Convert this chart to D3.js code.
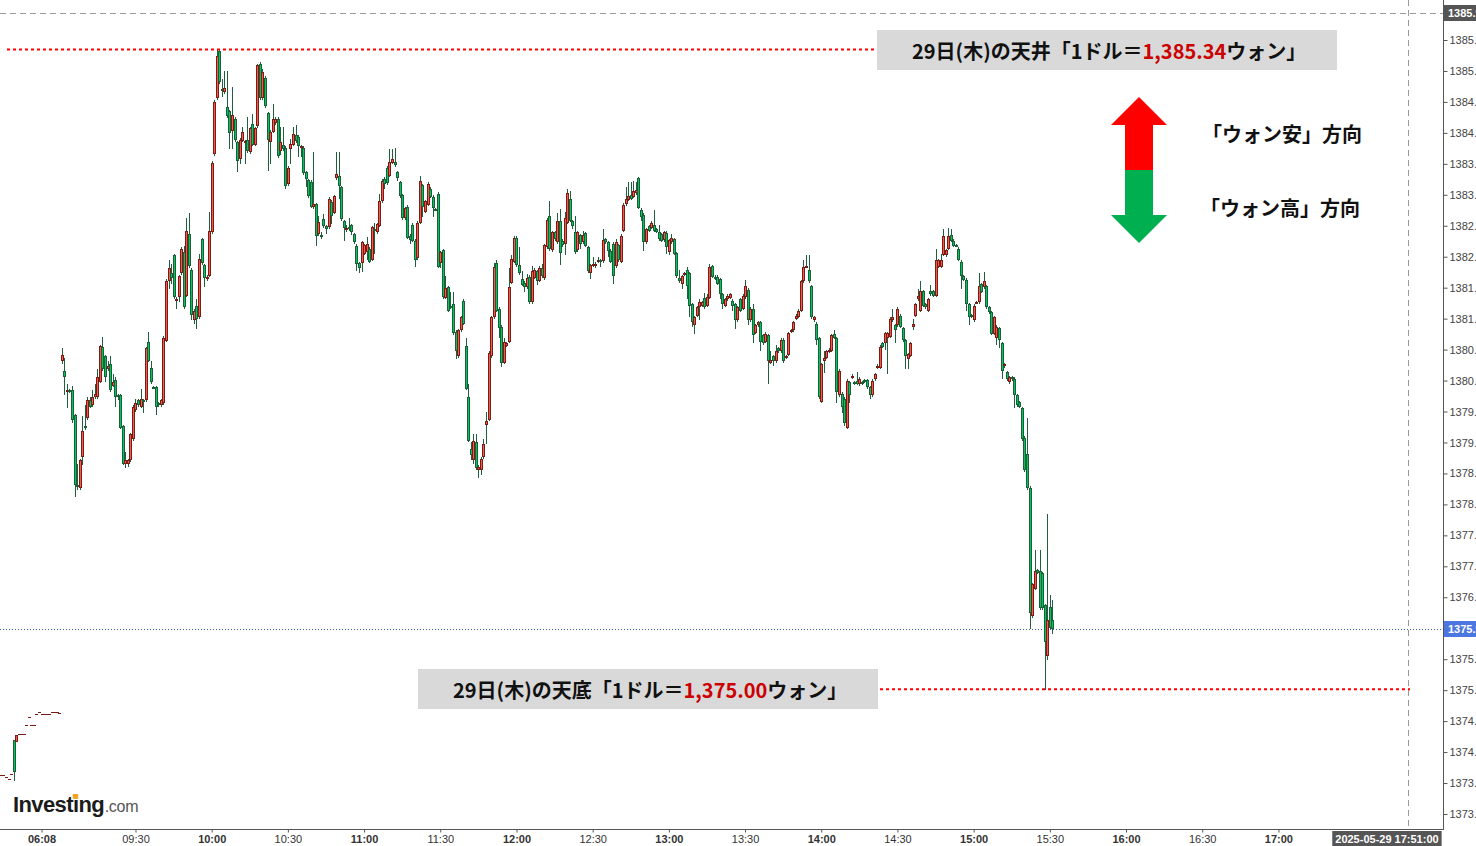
<!DOCTYPE html>
<html><head><meta charset="utf-8">
<script src="https://cdn.jsdelivr.net/npm/d3@7"></script>
<style>body{margin:0;background:#fff;overflow:hidden}svg{display:block}</style>
</head><body>
<svg id="c" width="1476" height="846"></svg>
<script>
// ---------------- DATA ----------------
// pre-market 1-minute bars [open, high, low, close], minute index -23 .. 0
const preStartMinute = -23;
const preMarket = [
[1373.63,1373.63,1373.63,1373.63],[1373.63,1373.63,1373.63,1373.63],[1373.60,1373.60,1373.60,1373.60],
[1373.56,1373.56,1373.56,1373.56],[1373.65,1373.65,1373.65,1373.65],[1374.19,1374.19,1373.53,1373.68],
[1374.16,1374.27,1374.16,1374.27],[1374.29,1374.29,1374.29,1374.29],[1374.29,1374.29,1374.29,1374.29],
[1374.29,1374.29,1374.29,1374.29],[1374.43,1374.43,1374.43,1374.43],[1374.56,1374.56,1374.56,1374.56],
[1374.43,1374.43,1374.43,1374.43],[1374.43,1374.43,1374.43,1374.43],[1374.61,1374.61,1374.61,1374.61],
[1374.64,1374.64,1374.64,1374.64],[1374.61,1374.61,1374.61,1374.61],[1374.61,1374.61,1374.61,1374.61],
[1374.61,1374.61,1374.61,1374.61],[1374.61,1374.61,1374.61,1374.61],[1374.64,1374.64,1374.64,1374.64],
[1374.64,1374.64,1374.64,1374.64],[1374.64,1374.64,1374.64,1374.64],[1374.63,1374.63,1374.63,1374.63]
];
// session 1-minute bars [open, high, low, close], minute index 1 (09:01) onward
const sessionStartMinute = 1;
const session = [
[1380.32,1380.53,1380.27,1380.42],[1380.16,1380.37,1379.76,1380.06],[1379.81,1379.95,1379.55,1379.85],[1379.84,1379.86,1379.80,1379.82],
[1379.85,1379.92,1379.32,1379.36],[1379.44,1379.46,1378.12,1378.31],[1378.31,1378.66,1378.23,1378.28],[1378.26,1378.74,1378.24,1378.71],
[1378.77,1379.42,1378.63,1379.18],[1379.26,1379.60,1379.20,1379.23],[1379.40,1379.73,1379.37,1379.69],[1379.69,1379.74,1379.55,1379.58],
[1379.61,1379.84,1379.58,1379.73],[1379.74,1379.94,1379.70,1379.79],[1379.73,1380.19,1379.71,1380.05],[1379.98,1380.58,1379.96,1380.56],
[1380.55,1380.71,1380.16,1380.19],[1380.40,1380.42,1379.98,1380.06],[1380.19,1380.32,1380.16,1380.24],[1380.27,1380.39,1379.82,1379.84],
[1379.92,1380.11,1379.90,1379.98],[1380.01,1380.06,1379.58,1379.73],[1379.77,1379.79,1379.68,1379.73],[1379.77,1379.79,1379.21,1379.24],
[1379.27,1379.29,1378.63,1378.66],[1378.66,1378.84,1378.58,1378.72],[1378.66,1378.74,1378.61,1378.71],[1378.71,1379.16,1378.69,1379.13],
[1379.06,1379.60,1379.03,1379.58],[1379.53,1379.71,1379.50,1379.63],[1379.69,1379.71,1379.58,1379.61],[1379.58,1379.87,1379.55,1379.71],
[1379.68,1379.70,1379.47,1379.65],[1379.68,1380.55,1379.66,1380.53],[1380.63,1380.79,1380.30,1380.32],[1380.21,1380.31,1379.94,1379.97],
[1379.90,1379.92,1379.86,1379.88],[1379.90,1379.92,1379.44,1379.58],[1379.64,1379.66,1379.58,1379.61],[1379.61,1379.70,1379.58,1379.68],
[1379.64,1380.72,1379.61,1380.69],[1380.64,1381.64,1380.62,1381.61],[1381.61,1381.94,1381.48,1381.81],[1381.74,1381.89,1381.56,1381.66],
[1382.03,1382.05,1381.32,1381.35],[1381.29,1381.35,1381.16,1381.32],[1381.35,1381.71,1381.27,1381.69],[1381.73,1382.15,1381.71,1382.13],
[1382.08,1382.18,1381.16,1381.19],[1381.37,1382.63,1381.35,1382.42],[1382.37,1382.71,1381.82,1381.85],[1381.79,1381.81,1380.97,1381.06],
[1380.98,1381.16,1380.92,1381.13],[1381.21,1381.32,1380.84,1381.00],[1381.03,1382.05,1381.00,1381.97],[1382.29,1382.31,1381.87,1381.90],
[1381.87,1381.89,1381.51,1381.66],[1381.64,1381.70,1381.61,1381.68],[1381.69,1382.72,1381.67,1382.42],[1382.40,1383.55,1382.37,1383.52],
[1383.66,1384.53,1383.63,1384.50],[1384.56,1385.34,1384.53,1385.24],[1385.32,1385.34,1384.79,1384.82],[1384.71,1384.87,1384.58,1384.68],
[1384.66,1385.00,1384.63,1384.73],[1384.42,1385.00,1384.24,1384.27],[1384.35,1384.37,1383.74,1384.00],[1384.03,1384.74,1383.74,1384.29],
[1384.23,1384.26,1383.86,1383.89],[1383.85,1383.87,1383.37,1383.55],[1383.58,1383.92,1383.50,1383.89],[1383.87,1384.10,1383.85,1384.02],
[1383.84,1383.89,1383.50,1383.87],[1383.89,1384.26,1383.68,1383.71],[1383.69,1384.10,1383.66,1384.08],[1384.15,1384.31,1383.79,1383.81],
[1383.81,1384.10,1383.79,1384.08],[1384.11,1385.12,1384.08,1385.10],[1385.11,1385.14,1384.53,1384.56],[1384.56,1385.03,1384.53,1384.98],
[1384.89,1384.92,1384.40,1384.43],[1384.32,1384.34,1383.39,1383.89],[1383.85,1384.05,1383.50,1384.02],[1384.02,1384.47,1383.99,1384.23],
[1384.16,1384.26,1384.13,1384.23],[1384.23,1384.26,1383.60,1383.63],[1383.71,1384.10,1383.64,1383.85],[1383.81,1384.10,1383.71,1383.74],
[1383.76,1383.79,1383.10,1383.15],[1383.18,1383.47,1383.15,1383.44],[1383.74,1383.90,1383.50,1383.82],[1383.81,1384.10,1383.79,1383.98],
[1383.97,1384.13,1383.84,1383.87],[1383.94,1383.97,1383.61,1383.79],[1383.77,1383.81,1383.61,1383.79],[1383.76,1383.79,1383.32,1383.35],
[1383.37,1383.39,1383.13,1383.26],[1383.24,1383.26,1382.95,1382.98],[1383.21,1383.24,1382.79,1382.81],[1382.81,1383.69,1382.77,1382.85],
[1382.85,1382.87,1382.18,1382.34],[1382.37,1382.66,1382.34,1382.56],[1382.35,1382.40,1382.29,1382.34],[1382.61,1382.69,1382.47,1382.50],
[1382.50,1382.52,1382.37,1382.45],[1382.48,1382.96,1382.45,1382.94],[1382.89,1382.91,1382.53,1382.66],[1382.71,1383.00,1382.69,1382.98],
[1383.27,1383.69,1383.24,1383.34],[1383.31,1383.69,1382.94,1383.15],[1383.13,1383.15,1382.58,1382.61],[1382.58,1382.60,1382.26,1382.47],
[1382.43,1382.52,1382.40,1382.47],[1382.48,1382.63,1382.42,1382.45],[1382.51,1382.53,1382.35,1382.40],[1382.37,1382.39,1382.21,1382.23],
[1382.18,1382.20,1381.77,1381.89],[1381.90,1381.92,1381.74,1381.81],[1381.90,1382.26,1381.76,1382.24],[1382.05,1382.21,1382.03,1382.19],
[1382.07,1382.32,1381.94,1382.21],[1382.13,1382.15,1381.90,1381.92],[1381.95,1382.50,1381.93,1382.48],[1382.45,1382.55,1382.05,1382.42],
[1382.40,1382.55,1382.37,1382.53],[1382.50,1383.02,1382.48,1382.90],[1382.90,1383.26,1382.87,1383.23],[1383.26,1383.29,1383.10,1383.18],
[1383.44,1383.47,1383.16,1383.19],[1383.31,1383.74,1383.29,1383.53],[1383.52,1383.74,1383.50,1383.58],[1383.53,1383.76,1383.45,1383.48],
[1383.37,1383.39,1383.23,1383.27],[1383.21,1383.23,1382.95,1382.98],[1383.00,1383.02,1382.60,1382.63],[1382.63,1382.81,1382.60,1382.79],
[1382.81,1382.83,1382.29,1382.31],[1382.34,1382.37,1382.21,1382.27],[1382.52,1382.55,1382.24,1382.26],[1382.26,1382.28,1381.84,1381.95],
[1381.98,1382.57,1381.95,1382.55],[1382.55,1383.31,1382.53,1383.23],[1383.16,1383.18,1382.64,1382.81],[1382.73,1382.92,1382.71,1382.90],
[1382.84,1383.21,1382.82,1383.18],[1383.10,1383.13,1382.95,1382.97],[1382.97,1382.99,1382.64,1382.79],[1382.77,1382.79,1382.74,1382.76],
[1383.02,1383.05,1381.82,1381.84],[1381.90,1382.10,1381.81,1382.07],[1382.11,1382.13,1381.32,1381.35],[1381.34,1381.69,1381.32,1381.50],
[1381.51,1381.53,1381.10,1381.13],[1381.21,1381.43,1381.16,1381.19],[1381.24,1381.43,1380.74,1380.77],[1380.79,1380.81,1380.35,1380.47],
[1380.40,1380.84,1380.37,1380.82],[1380.82,1381.05,1380.79,1381.02],[1381.29,1381.31,1380.89,1380.92],[1380.56,1380.68,1379.84,1379.87],
[1379.74,1379.94,1379.00,1379.03],[1378.90,1379.01,1378.71,1378.79],[1378.72,1379.13,1378.66,1379.03],[1379.01,1379.13,1378.55,1378.58],
[1378.56,1378.63,1378.42,1378.61],[1378.55,1378.76,1378.47,1378.73],[1378.76,1379.06,1378.74,1378.97],[1379.29,1379.50,1378.98,1379.35],
[1379.37,1380.47,1379.34,1380.45],[1380.40,1381.05,1380.37,1381.02],[1381.02,1381.90,1381.00,1381.84],[1381.90,1381.94,1381.10,1381.13],
[1381.16,1381.18,1380.68,1380.85],[1380.87,1380.89,1380.22,1380.29],[1380.29,1380.69,1380.26,1380.63],[1380.56,1380.62,1380.55,1380.60],
[1380.63,1381.81,1380.61,1381.51],[1381.58,1382.02,1381.56,1381.97],[1381.92,1382.33,1381.90,1382.31],[1382.31,1382.33,1381.84,1381.87],
[1381.87,1382.16,1381.71,1381.73],[1381.64,1381.77,1381.52,1381.55],[1381.58,1381.60,1381.43,1381.51],[1381.51,1381.72,1381.48,1381.66],
[1381.68,1381.70,1381.24,1381.27],[1381.27,1381.85,1381.24,1381.77],[1381.66,1381.81,1381.64,1381.79],[1381.77,1381.79,1381.55,1381.60],
[1381.61,1381.85,1381.59,1381.82],[1381.82,1381.89,1381.66,1381.69],[1381.66,1382.21,1381.63,1382.19],[1382.16,1382.62,1382.13,1382.60],
[1382.66,1382.90,1382.10,1382.13],[1382.11,1382.42,1382.08,1382.40],[1382.40,1382.42,1382.26,1382.29],[1382.23,1382.71,1382.21,1382.58],
[1382.58,1382.77,1381.87,1382.06],[1382.26,1382.29,1382.16,1382.19],[1382.21,1382.72,1382.02,1382.63],[1382.55,1383.10,1382.53,1383.03],
[1382.94,1383.06,1382.56,1382.58],[1382.58,1382.60,1382.45,1382.50],[1382.40,1382.66,1382.05,1382.08],[1382.11,1382.42,1382.08,1382.40],
[1382.35,1382.37,1382.13,1382.21],[1382.24,1382.42,1382.21,1382.35],[1382.39,1382.40,1382.16,1382.18],[1382.16,1382.18,1381.74,1381.77],
[1381.73,1381.89,1381.64,1381.87],[1381.85,1382.00,1381.84,1381.89],[1381.86,1381.91,1381.81,1381.89],[1381.92,1382.00,1381.90,1381.94],
[1381.94,1381.96,1381.84,1381.92],[1381.93,1382.45,1381.90,1382.27],[1382.29,1382.31,1382.21,1382.24],[1382.24,1382.26,1382.00,1382.10],
[1382.10,1382.12,1381.90,1381.92],[1382.21,1382.24,1381.56,1381.69],[1381.85,1382.29,1381.82,1382.23],[1382.19,1382.21,1381.91,1381.94],
[1381.92,1382.36,1381.90,1382.34],[1382.42,1382.86,1382.40,1382.84],[1382.85,1383.13,1382.82,1382.94],[1382.92,1383.21,1382.90,1382.98],
[1383.00,1383.21,1382.92,1382.94],[1382.97,1383.23,1382.95,1383.06],[1383.03,1383.21,1383.00,1383.08],[1383.27,1383.29,1382.77,1382.79],
[1382.76,1382.78,1382.58,1382.64],[1382.68,1382.70,1382.10,1382.24],[1382.24,1382.47,1382.21,1382.45],[1382.50,1382.52,1382.40,1382.42],
[1382.47,1382.57,1382.45,1382.55],[1382.52,1382.76,1382.40,1382.42],[1382.44,1382.46,1382.38,1382.40],[1382.40,1382.52,1382.26,1382.29],
[1382.37,1382.39,1382.24,1382.26],[1382.27,1382.42,1382.24,1382.40],[1382.39,1382.41,1382.05,1382.16],[1382.08,1382.29,1382.03,1382.27],
[1382.24,1382.37,1382.21,1382.31],[1382.29,1382.31,1382.02,1382.05],[1382.06,1382.08,1381.66,1381.69],[1381.66,1381.79,1381.58,1381.61],
[1381.56,1381.71,1381.48,1381.69],[1381.71,1381.76,1381.69,1381.74],[1381.79,1381.84,1381.32,1381.53],[1381.74,1381.76,1381.03,1381.21],
[1381.24,1381.26,1380.87,1380.95],[1380.89,1381.05,1380.76,1381.02],[1381.05,1381.21,1381.03,1381.19],[1381.19,1381.32,1380.97,1381.27],
[1381.21,1381.29,1381.19,1381.27],[1381.34,1381.42,1381.16,1381.19],[1381.21,1381.39,1381.18,1381.35],[1381.34,1381.89,1381.31,1381.84],
[1381.85,1381.87,1381.66,1381.68],[1381.68,1381.70,1381.62,1381.64],[1381.68,1381.70,1381.54,1381.56],[1381.64,1381.66,1381.32,1381.40],
[1381.40,1381.42,1381.16,1381.24],[1381.21,1381.33,1381.19,1381.31],[1381.31,1381.39,1381.29,1381.37],[1381.34,1381.42,1381.32,1381.40],
[1381.29,1381.31,1381.13,1381.21],[1381.24,1381.26,1380.84,1380.97],[1380.97,1381.21,1380.95,1381.19],[1381.32,1381.34,1381.10,1381.13],
[1381.16,1381.39,1381.14,1381.37],[1381.35,1381.63,1381.32,1381.53],[1381.47,1381.49,1380.89,1380.97],[1380.97,1381.18,1380.95,1381.15],
[1381.15,1381.24,1380.60,1380.73],[1380.77,1380.91,1380.75,1380.89],[1380.89,1380.96,1380.87,1380.94],[1380.94,1380.96,1380.48,1380.63],
[1380.74,1380.76,1380.58,1380.61],[1380.63,1380.78,1380.61,1380.76],[1380.73,1380.75,1379.95,1380.31],[1380.29,1380.48,1380.27,1380.34],
[1380.40,1380.42,1380.24,1380.31],[1380.31,1380.58,1380.29,1380.48],[1380.53,1380.55,1380.45,1380.48],[1380.47,1380.68,1380.45,1380.66],
[1380.66,1380.68,1380.29,1380.31],[1380.37,1380.42,1380.35,1380.40],[1380.42,1380.79,1380.40,1380.77],[1380.79,1380.83,1380.77,1380.81],
[1380.81,1380.96,1380.79,1380.94],[1380.99,1381.07,1380.97,1381.05],[1381.03,1381.15,1381.01,1381.13],[1381.13,1381.63,1381.10,1381.61],
[1381.61,1381.94,1381.58,1381.84],[1381.84,1382.02,1381.82,1381.85],[1381.79,1382.02,1381.58,1381.61],[1381.53,1381.55,1380.99,1381.02],
[1380.97,1381.05,1380.94,1381.03],[1380.92,1380.94,1380.58,1380.65],[1380.69,1380.71,1379.70,1379.73],[1379.65,1380.29,1379.63,1380.27],
[1380.32,1380.47,1380.13,1380.37],[1380.37,1380.49,1380.35,1380.47],[1380.47,1380.52,1380.45,1380.50],[1380.48,1380.76,1380.46,1380.74],
[1380.76,1380.81,1380.67,1380.69],[1380.69,1380.71,1379.63,1379.82],[1379.76,1380.18,1379.74,1380.16],[1379.79,1379.81,1379.47,1379.58],
[1379.71,1379.73,1379.27,1379.31],[1379.24,1380.02,1379.22,1380.00],[1379.98,1380.00,1379.63,1379.77],[1380.05,1380.10,1380.03,1380.08],
[1379.98,1380.00,1379.93,1379.95],[1380.00,1380.14,1379.93,1379.95],[1379.94,1380.05,1379.92,1380.03],[1379.98,1380.00,1379.93,1379.95],
[1380.01,1380.03,1379.96,1379.98],[1380.01,1380.03,1379.87,1379.90],[1379.90,1379.92,1379.71,1379.76],[1379.76,1380.02,1379.74,1380.00],
[1380.02,1380.13,1380.00,1380.11],[1380.21,1380.26,1380.19,1380.24],[1380.21,1380.57,1380.19,1380.55],[1380.61,1380.63,1380.53,1380.55],
[1380.61,1380.79,1380.50,1380.77],[1380.69,1380.79,1380.11,1380.77],[1380.71,1381.03,1380.69,1381.00],[1380.97,1381.16,1380.95,1381.02],
[1380.90,1380.92,1380.60,1380.81],[1380.89,1381.19,1380.87,1381.15],[1381.05,1381.07,1380.85,1380.87],[1380.85,1380.87,1380.63,1380.65],
[1380.65,1380.67,1380.18,1380.40],[1380.35,1380.45,1380.18,1380.43],[1380.40,1380.62,1380.38,1380.60],[1380.87,1381.00,1380.81,1380.92],
[1381.05,1381.26,1381.03,1381.23],[1381.32,1381.48,1381.29,1381.37],[1381.13,1381.60,1381.10,1381.45],[1381.45,1381.47,1381.19,1381.21],
[1381.23,1381.26,1381.16,1381.19],[1381.13,1381.34,1381.10,1381.32],[1381.45,1381.55,1381.37,1381.39],[1381.45,1381.47,1381.35,1381.37],
[1381.37,1382.13,1381.35,1381.94],[1381.84,1381.97,1381.82,1381.95],[1381.84,1382.05,1381.82,1381.95],[1382.03,1382.45,1382.01,1382.34],
[1382.02,1382.13,1382.00,1382.11],[1382.13,1382.47,1382.11,1382.34],[1382.35,1382.44,1382.24,1382.26],[1382.26,1382.28,1382.16,1382.18],
[1382.19,1382.21,1382.16,1382.18],[1382.13,1382.15,1381.93,1381.95],[1381.92,1381.94,1381.48,1381.69],[1381.69,1381.71,1381.61,1381.63],
[1381.63,1381.65,1381.13,1381.24],[1381.24,1381.26,1380.89,1381.03],[1381.06,1381.08,1381.01,1381.03],[1380.97,1381.23,1380.95,1381.21],
[1381.26,1381.29,1381.24,1381.27],[1381.27,1381.73,1381.24,1381.53],[1381.56,1381.58,1381.41,1381.43],[1381.51,1381.76,1381.48,1381.61],
[1381.53,1381.55,1381.16,1381.19],[1381.19,1381.21,1381.07,1381.10],[1381.10,1381.12,1380.74,1380.76],[1380.76,1381.05,1380.74,1381.03],
[1380.68,1380.89,1380.58,1380.87],[1380.85,1380.87,1380.52,1380.65],[1380.61,1380.63,1380.03,1380.16],[1380.23,1380.28,1380.21,1380.26],
[1380.14,1380.16,1380.00,1380.03],[1379.97,1380.07,1379.95,1380.05],[1380.06,1380.08,1380.00,1380.02],[1380.03,1380.05,1379.55,1379.76],
[1379.77,1379.79,1379.58,1379.61],[1379.65,1379.67,1379.56,1379.58],[1379.56,1379.58,1379.03,1379.05],[1379.08,1379.10,1378.53,1378.56],
[1378.81,1379.39,1378.24,1378.27],[1378.27,1378.29,1375.98,1376.24],[1376.19,1376.73,1376.16,1376.71],[1376.63,1377.26,1376.61,1376.92],
[1376.94,1376.96,1376.87,1376.89],[1376.92,1377.26,1376.29,1376.32],[1376.89,1376.91,1376.29,1376.32],[1376.37,1376.39,1375.00,1375.77],
[1375.55,1377.85,1375.48,1376.13],[1376.35,1376.53,1375.98,1376.00],[1376.13,1376.45,1375.90,1375.98]
];
const xTickMinutes = [-7,30,60,90,120,150,180,210,240,270,300,330,360,390,420,450,480];
const xTickLabels  = ["06:08","09:30","10:00","10:30","11:00","11:30","12:00","12:30","13:00","13:30","14:00","14:30","15:00","15:30","16:00","16:30","17:00"];
const xTickBold    = [true,false,true,false,true,false,true,false,true,false,true,false,true,false,true,false,true];
const priceTicks = [1373.0,1373.5,1374.0,1374.5,1375.0,1375.5,1376.0,1376.5,1377.0,1377.5,1378.0,1378.5,1379.0,1379.5,1380.0,1380.5,1381.0,1381.5,1382.0,1382.5,1383.0,1383.5,1384.0,1384.5,1385.0,1385.5];
const dayHigh = 1385.34, dayLow = 1375.00, lastPrice = 1375.98;
const crossPrice = 1385.93, crossMinute = 531, crossLabel = "2025-05-29 17:51:00";
const topNote = ["29日(木)の天井「1ドル＝", "1,385.34", "ウォン」"];
const bottomNote = ["29日(木)の天底「1ドル＝", "1,375.00", "ウォン」"];
const upLabel = "「ウォン安」方向", downLabel = "「ウォン高」方向";

// ---------------- CHART ----------------
const svg = d3.select("#c");
const W = 1476, H = 846, axisX = 1443, axisY = 829;
const x = d3.scaleLinear().domain([-23.35, 544.8]).range([0, axisX]);
const y = d3.scaleLinear().domain([1373, 1385.5]).range([814, 40]);
const latin = "'Liberation Sans', Arial, sans-serif";
const jp = "'Noto Sans CJK JP', 'Noto Sans CJK SC', sans-serif";

svg.append("rect").attr("width", W).attr("height", H).attr("fill", "#fff");

// crosshair lines
svg.append("line").attr("x1", 0).attr("x2", axisX).attr("y1", Math.round(y(crossPrice)) + 0.5).attr("y2", Math.round(y(crossPrice)) + 0.5)
  .attr("stroke", "#9a9a9a").attr("stroke-dasharray", "6,4");
svg.append("line").attr("x1", Math.round(x(crossMinute)) + 0.5).attr("x2", Math.round(x(crossMinute)) + 0.5).attr("y1", 0).attr("y2", axisY)
  .attr("stroke", "#9a9a9a").attr("stroke-dasharray", "6,4");

// last price line
svg.append("line").attr("x1", 0).attr("x2", axisX).attr("y1", Math.round(y(lastPrice)) + 0.5).attr("y2", Math.round(y(lastPrice)) + 0.5)
  .attr("stroke", "#3d5fc4").attr("stroke-dasharray", "1,2");

// candles
function drawBars(rows, start) {
  const g = svg.append("g");
  rows.forEach((r, i) => {
    const [o, h, l, c] = r;
    const cx = Math.round(x(start + i));
    const up = c > o, flat = c === o;
    const fill = up ? "#f25a4f" : "#00c65e";
    const border = (up || flat) ? "#7a1c14" : "#1c5e38";
    const yh = Math.round(y(Math.max(h, o, c))), yl = Math.round(y(Math.min(l, o, c)));
    if (yl - yh > 0) g.append("rect").attr("x", cx).attr("y", yh).attr("width", 1).attr("height", yl - yh).attr("fill", "#1f5f3d");
    const top = Math.round(y(Math.max(o, c))), bot = Math.round(y(Math.min(o, c)));
    const hgt = Math.max(1, bot - top);
    if (flat) {
      g.append("rect").attr("x", cx - 1).attr("y", top).attr("width", 3).attr("height", 1).attr("fill", border);
      return;
    }
    g.append("rect").attr("x", cx - 1).attr("y", top).attr("width", 3).attr("height", Math.max(2, hgt)).attr("fill", border);
    if (hgt >= 3) g.append("rect").attr("x", cx).attr("y", top + 1).attr("width", 1).attr("height", hgt - 2).attr("fill", fill);
  });
}
drawBars(preMarket, preStartMinute);
drawBars(session, sessionStartMinute);

// red dotted high / low lines
svg.append("line").attr("x1", 7).attr("x2", 875).attr("y1", y(dayHigh) - 0.5).attr("y2", y(dayHigh) - 0.5)
  .attr("stroke", "#ff0000").attr("stroke-width", 2).attr("stroke-dasharray", "3,3");
svg.append("line").attr("x1", 880).attr("x2", 1410).attr("y1", y(dayLow) - 1).attr("y2", y(dayLow) - 1)
  .attr("stroke", "#ff0000").attr("stroke-width", 2).attr("stroke-dasharray", "3,3");

// axes
const yAxis = d3.axisRight(y).tickValues(priceTicks).tickFormat(d3.format(".2f")).tickSize(4).tickPadding(2);
const gy = svg.append("g").attr("transform", `translate(${axisX + 0.5},0)`).call(yAxis);
gy.select(".domain").remove();
gy.selectAll(".tick line").attr("stroke", "#555");
gy.selectAll(".tick text").attr("font-family", latin).attr("font-size", 11).attr("fill", "#444");
svg.append("line").attr("x1", axisX + 0.5).attr("x2", axisX + 0.5).attr("y1", 0).attr("y2", axisY).attr("stroke", "#555");

const xAxis = d3.axisBottom(x).tickValues(xTickMinutes).tickFormat((d, i) => xTickLabels[i]).tickSize(3).tickPadding(3);
const gx = svg.append("g").attr("transform", `translate(0,${axisY + 0.5})`).call(xAxis);
gx.select(".domain").remove();
gx.selectAll(".tick line").attr("stroke", "#555");
gx.selectAll(".tick text").attr("font-family", latin).attr("font-size", 11).attr("fill", "#333")
  .attr("font-weight", (d, i) => xTickBold[i] ? "bold" : "normal");
svg.append("line").attr("x1", 0).attr("x2", axisX + 1).attr("y1", axisY + 0.5).attr("y2", axisY + 0.5).attr("stroke", "#555");

// axis boxes
function priceBox(val, bg) {
  const cy = Math.round(y(val));
  svg.append("rect").attr("x", axisX + 1).attr("y", cy - 8).attr("width", W - axisX).attr("height", 16).attr("fill", bg);
  svg.append("text").attr("x", axisX + 5).attr("y", cy).attr("dy", "0.35em").attr("font-family", latin)
    .attr("font-size", 11).attr("font-weight", "bold").attr("fill", "#fff").text(d3.format(".2f")(val));
}
priceBox(crossPrice, "#555555");
priceBox(lastPrice, "#4c77e0");
{
  const cx = x(crossMinute);
  const t = svg.append("text").attr("x", cx - 21).attr("y", 839).attr("dy", "0.35em").attr("text-anchor", "middle")
    .attr("font-family", latin).attr("font-size", 11).attr("font-weight", "bold").attr("fill", "#fff").text(crossLabel);
  const bb = t.node().getBBox();
  svg.insert("rect", () => t.node()).attr("x", bb.x - 3).attr("y", 831).attr("width", bb.width + 6).attr("height", 15).attr("fill", "#555555");
}

// annotation boxes
function noteBox(parts, bx, by, tx) {
  svg.append("rect").attr("x", bx).attr("y", by).attr("width", 460).attr("height", 40).attr("fill", "#d9d9d9");
  const t = svg.append("text").attr("x", tx).attr("y", by + 20).attr("dominant-baseline", "central")
    .attr("font-family", jp).attr("font-size", 20).attr("font-weight", "bold").attr("fill", "#111");
  t.append("tspan").text(parts[0]);
  t.append("tspan").attr("fill", "#cc0000").text(parts[1]);
  t.append("tspan").text(parts[2]);
}
noteBox(topNote, 877, 30, 912);
noteBox(bottomNote, 418, 669, 453);

// direction arrows
svg.append("polygon").attr("points", "1139,97 1167,125 1153,125 1153,170 1125,170 1125,125 1111,125").attr("fill", "#ff0000");
svg.append("polygon").attr("points", "1125,170 1153,170 1153,215 1167,215 1139,243 1111,215 1125,215").attr("fill", "#00b050");
svg.append("text").attr("x", 1202).attr("y", 133).attr("dominant-baseline", "central").attr("font-family", jp)
  .attr("font-size", 20).attr("font-weight", "bold").attr("fill", "#111").text(upLabel);
svg.append("text").attr("x", 1200).attr("y", 207).attr("dominant-baseline", "central").attr("font-family", jp)
  .attr("font-size", 20).attr("font-weight", "bold").attr("fill", "#111").text(downLabel);

// Investing.com logo
{
  const t = svg.append("text").attr("x", 13).attr("y", 812).attr("font-family", latin).attr("font-size", 22)
    .attr("font-weight", "bold").attr("letter-spacing", -0.6).attr("fill", "#1b1b1b").text("Investing");
  const w = t.node().getComputedTextLength();
  svg.append("text").attr("x", 13 + w + 0.5).attr("y", 812).attr("font-family", latin).attr("font-size", 16)
    .attr("fill", "#555").attr("letter-spacing", -0.3).text(".com");
  const p = t.node().getStartPositionOfChar(6), e = t.node().getEndPositionOfChar(6);
  const mx = (p.x + e.x) / 2 - 0.3;
  svg.append("rect").attr("x", mx - 2.7).attr("y", 812 - 18).attr("width", 5.4).attr("height", 4.8).attr("fill", "#f6a21c");
}
</script>
</body></html>
